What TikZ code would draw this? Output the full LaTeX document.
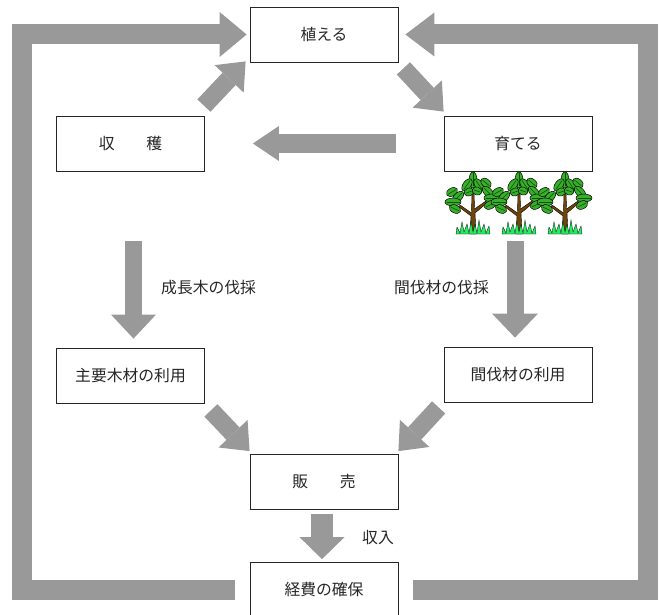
\documentclass[tikz,border=0pt]{standalone}
\usepackage{fontspec}
\setmainfont{Noto Sans CJK JP}
\usetikzlibrary{arrows.meta}

\definecolor{arrowgray}{HTML}{999999}
\definecolor{leafgreen}{RGB}{55,175,40}
\definecolor{veingreen}{RGB}{15,80,10}
\definecolor{grassgreen}{RGB}{40,235,100}
\definecolor{barkbrown}{RGB}{110,70,10}
\tikzset{
    x={1pt},
    y={-1pt},
    stage box/.style={
        draw=black!85, fill=white,
        line width={0.8pt},
        minimum width={148},
        minimum height={55},
        inner sep=0pt,
        font={\fontsize{15.8}{18}\selectfont},
        text=black!85,
    },
    flow label/.style={
        font={\fontsize{15.8}{18}\selectfont},
        text=black!85,
        inner sep=0pt,
    },
    block arrow/.style n args={3}{
        draw=arrowgray,
        line width={#1},
        line join=miter,
        -{Triangle[length={#2}, width={#3}, line width=0pt]},
    },
    leaf/.style={
        fill=leafgreen, draw=black,
        line width={0.5pt},
    },
    vein/.style={
        draw=veingreen,
        line width={0.6pt},
    },
    tree/.pic={
        % trunk and two branches
        \path[fill=barkbrown, draw=black, line width={0.4pt}]
            (-3,0) -- (-2,-18) -- (-14,-27) -- (-13,-29) -- (-1.5,-21)
            -- (-1,-44) -- (1,-44) -- (1.5,-25) -- (13,-33) -- (14,-31)
            -- (2,-21) -- (3,0) -- cycle;
        % leaves
        \foreach \lx/\ly/\rot/\len in {
            0/-54/90/8, -6/-49/55/7, 6/-49/125/7, -4/-42/20/5, 4/-43/160/5,
            -21/-42/30/6, -15/-37/45/7, -20/-32/0/8, -18/-25/-25/6,
            13/-51/140/6, 15/-42/135/7, 19/-36/0/8, 17/-29/25/6}{
            \begin{scope}[shift={(\lx,\ly)}, rotate=\rot]
                \path[leaf] (0,0) ellipse [x radius=\len, y radius=4];
                \path[vein] (-\len+1.5,0) -- (\len-1.5,0);
            \end{scope}
        }
        % grass at the foot
        \path[fill=grassgreen, draw=black, line width={0.3pt}]
            (-17,0) -- (-16,-7) -- (-13,-1) -- (-11,-12) -- (-9,-2)
            -- (-6,-10) -- (-4,-1) -- (-2,-13) -- (0,-2) -- (2,-10)
            -- (4,-1) -- (6,-14) -- (8,-2) -- (11,-10) -- (13,-1)
            -- (16,-8) -- (17,0) -- cycle;
    },
}

\begin{document}
\begin{tikzpicture}
\useasboundingbox (0,0) rectangle (659,615);
% stages
\node[stage box] (plant) at (324,34.5) {植える};
\node[stage box] (harvest) at (130.5,143.5) {収　　穫};
\node[stage box] (grow) at (518,143.5) {育てる};
\node[stage box] (mainuse) at (130.5,375.5) {主要木材の利用};
\node[stage box] (thinuse) at (518,374.5) {間伐材の利用};
\node[stage box] (sell) at (324,482) {販　　売};
\node[stage box] (cost) at (324,590) {経費の確保};
% trees under the growing stage
\pic at (473,234) {tree};
\pic at (519,234) {tree};
\pic at (565,234) {tree};
% labels
\node[flow label, anchor=west] (fellmain) at (161,288) {成長木の伐採};
\node[flow label, anchor=east] (fellthin) at (489,288) {間伐材の伐採};
\node[flow label, anchor=west] (income) at (362,538) {収入};
% outer loops
\draw[block arrow={20pt}{27pt}{45pt}, shorten <=15pt, shorten >=3pt]
    (cost.west) -| (22,34.5) -- (plant.west);
\draw[block arrow={20pt}{29pt}{44pt}, shorten <=15pt, shorten >=7pt]
    (cost.east) -| (648,34.5) -- (plant.east);
% inner cycle
\draw[block arrow={18pt}{24pt}{40pt}]
    ([xshift=-1pt,yshift=10pt]harvest.north east) -- ([xshift=-4pt,yshift=1pt]plant.south west);
\draw[block arrow={18pt}{24pt}{40pt}]
    ([xshift=5pt,yshift=-6pt]plant.south east) -- ([yshift=4pt]grow.north west);
\draw[block arrow={19pt}{26pt}{35pt}, shorten <=48pt, shorten >=48pt]
    (grow.west) -- (harvest.east);
% felling
\draw[block arrow={17pt}{24pt}{45pt}, shorten <=70pt, shorten >=9pt]
    ([xshift=3pt]harvest.south) -- ([xshift=3pt]mainuse.north);
\draw[block arrow={17pt}{24pt}{46pt}, shorten <=70pt, shorten >=9pt]
    ([xshift=-3pt]grow.south) -- ([xshift=-3pt]thinuse.north);
% to market
\draw[block arrow={18pt}{24pt}{40pt}]
    ([xshift=6pt,yshift=-7pt]mainuse.south east) -- ([yshift=3pt]sell.north west);
\draw[block arrow={18pt}{24pt}{40pt}]
    ([xshift=-5pt,yshift=-5pt]thinuse.south west) -- ([yshift=3pt]sell.north east);
\draw[block arrow={22pt}{22pt}{45pt}, shorten <=4pt, shorten >=3pt]
    ([xshift=-2pt]sell.south) -- ([xshift=-2pt]cost.north);
\end{tikzpicture}
\end{document}
